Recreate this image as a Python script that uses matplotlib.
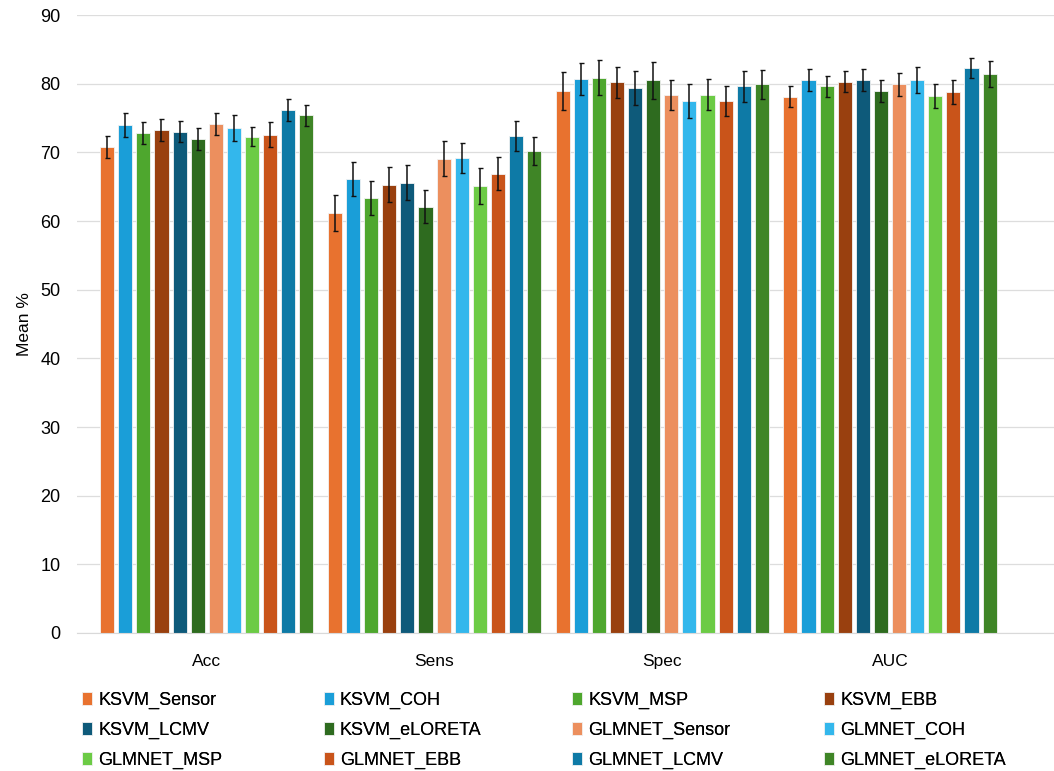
import numpy as np
import matplotlib.pyplot as plt

metrics = ['Acc', 'Sens', 'Spec', 'AUC']
models = ['KSVM_Sensor', 'KSVM_COH', 'KSVM_MSP', 'KSVM_EBB', 'KSVM_LCMV', 'KSVM_eLORETA',
          'GLMNET_Sensor', 'GLMNET_COH', 'GLMNET_MSP', 'GLMNET_EBB', 'GLMNET_LCMV', 'GLMNET_eLORETA']
colors = ['#E8722F', '#1A9ED8', '#4EA72E', '#99400F', '#0E5A7A', '#2E6B1F',
          '#EC8F5E', '#33B7EC', '#6CCB45', '#C9541A', '#0E7AA6', '#3F8526']

# mean % per model, one list per metric (Acc, Sens, Spec, AUC)
acc  = [70.8, 74.0, 72.8, 73.3, 73.0, 72.0, 74.1, 73.6, 72.3, 72.6, 76.2, 75.4]
sens = [61.2, 66.1, 63.4, 65.3, 65.6, 62.1, 69.1, 69.2, 65.1, 66.9, 72.4, 70.2]
spec = [78.9, 80.7, 80.9, 80.2, 79.4, 80.5, 78.3, 77.5, 78.4, 77.5, 79.6, 79.9]
auc  = [78.1, 80.6, 79.6, 80.3, 80.6, 78.9, 79.9, 80.6, 78.2, 78.8, 82.3, 81.4]

# standard error bars
acc_err  = [1.6, 1.7, 1.6, 1.6, 1.5, 1.6, 1.6, 1.9, 1.4, 1.8, 1.6, 1.5]
sens_err = [2.6, 2.5, 2.5, 2.5, 2.5, 2.4, 2.5, 2.2, 2.6, 2.4, 2.2, 2.0]
spec_err = [2.8, 2.3, 2.5, 2.3, 2.5, 2.7, 2.2, 2.5, 2.3, 2.2, 2.3, 2.1]
auc_err  = [1.5, 1.6, 1.5, 1.5, 1.6, 1.6, 1.7, 1.9, 1.8, 1.7, 1.4, 1.9]

means = np.array([acc, sens, spec, auc])
errs = np.array([acc_err, sens_err, spec_err, auc_err])

plt.rcParams['font.family'] = ['Liberation Sans', 'DejaVu Sans']

fig = plt.figure(figsize=(10.54, 7.71), dpi=100)
ax = fig.add_axes([0.073, 0.179, 0.927, 0.8015])

x = np.arange(len(metrics))
slot = 0.0795
width = 0.062
handles = []
for i, name in enumerate(models):
    pos = x + (i - 5.5) * slot
    b = ax.bar(pos, means[:, i], width, color=colors[i], edgecolor='#f3f3f3',
               linewidth=0.6, label=name, zorder=2)
    ax.errorbar(pos, means[:, i], yerr=errs[:, i], fmt='none', ecolor='#111111',
                elinewidth=1.1, capsize=1.8, capthick=1.0, zorder=3)
    handles.append(b)

ax.set_ylim(0, 90)
ax.set_xlim(-0.57, 3.72)
ax.set_yticks(range(0, 91, 10))
ax.set_xticks(x)
ax.set_xticklabels(metrics, fontsize=12.5)
ax.tick_params(axis='y', labelsize=13, length=0, pad=12)
ax.tick_params(axis='x', length=0, pad=15)
ax.yaxis.grid(True, color='#dddddd', linewidth=0.9, zorder=0)
ax.set_axisbelow(True)
for s in ['top', 'right', 'left']:
    ax.spines[s].set_visible(False)
ax.spines['bottom'].set_color('#d9d9d9')
ax.set_ylabel('Mean %', fontsize=12.5, labelpad=6)

# legend: four columns, filled row by row
col_x = [0.078, 0.307, 0.543, 0.782]
for c in range(4):
    idx = [c, c + 4, c + 8]
    leg = fig.legend([handles[k] for k in idx], [models[k] for k in idx],
                     loc='upper left', bbox_to_anchor=(col_x[c], 0.103),
                     frameon=False, handlelength=0.55, handleheight=0.7,
                     handletextpad=0.35, labelspacing=0.72, borderpad=0,
                     borderaxespad=0, fontsize=13)
    fig.add_artist(leg)

fig.savefig('out.png', dpi=100)
